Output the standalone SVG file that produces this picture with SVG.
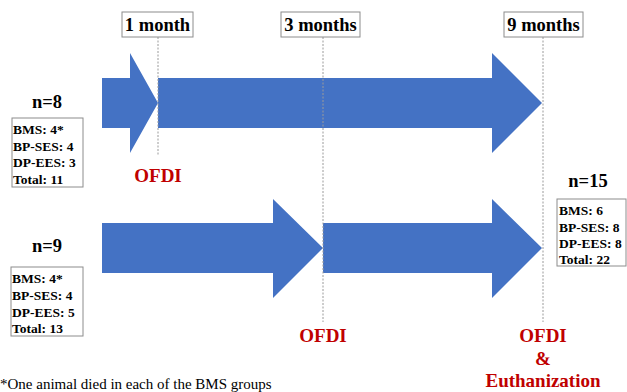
<svg xmlns="http://www.w3.org/2000/svg" width="627" height="392" viewBox="0 0 627 392">
<style>
.lbl{font-family:"Liberation Serif","Times New Roman",serif;font-weight:bold;fill:#000}
.tm{font-size:18.5px;text-anchor:middle}
.n{font-size:18.5px;text-anchor:middle}
.cnt{font-size:13.5px}
.red{font-family:"Liberation Serif","Times New Roman",serif;font-weight:bold;font-size:19px;fill:#C00000;text-anchor:middle}
.box{fill:#fff;stroke:#8c8c8c;stroke-width:1}
.arrow{fill:#4472C4}
.dash{stroke:#9a9a9a;stroke-width:1;stroke-dasharray:2,1.5;fill:none}
.note{font-family:"Liberation Serif","Times New Roman",serif;font-size:15px;fill:#000}
</style>
<rect width="627" height="392" fill="#fff"/>
<g id="arrows">
<polygon class="arrow" points="102,78 130,78 130,53 158,103 130,153 130,128 102,128"/>
<polygon class="arrow" points="158,78 492,78 492,53 542,103 492,153 492,128 158,128"/>
<polygon class="arrow" points="102,223 273,223 273,199 323,248 273,298 273,273 102,273"/>
<polygon class="arrow" points="323,223 492,223 492,199 542,248 492,298 492,273 323,273"/>
</g>
<g id="connectors">
<line class="dash" x1="158" y1="37" x2="158" y2="155"/>
<line class="dash" x1="323" y1="37" x2="323" y2="322"/>
<line class="dash" x1="543" y1="37" x2="543" y2="322"/>
</g>
<g id="t1">
<rect class="box" x="122" y="12" width="71" height="25"/>
<text class="lbl tm" x="157.5" y="31">1 month</text>
</g>
<g id="t3">
<rect class="box" x="281" y="12" width="79" height="25"/>
<text class="lbl tm" x="320.5" y="31">3 months</text>
</g>
<g id="t9">
<rect class="box" x="504" y="12" width="79" height="25"/>
<text class="lbl tm" x="543.5" y="31">9 months</text>
</g>
<g id="g1">
<text class="lbl n" x="47" y="108">n=8</text>
<rect class="box" x="12" y="118" width="71" height="69"/>
<text class="lbl cnt" x="13" y="134">BMS: 4*</text>
<text class="lbl cnt" x="13" y="151">BP-SES: 4</text>
<text class="lbl cnt" x="13" y="167">DP-EES: 3</text>
<text class="lbl cnt" x="13" y="184">Total: 11</text>
</g>
<g id="g2">
<text class="lbl n" x="47" y="252">n=9</text>
<rect class="box" x="11" y="267" width="72" height="69"/>
<text class="lbl cnt" x="12" y="283">BMS: 4*</text>
<text class="lbl cnt" x="12" y="300">BP-SES: 4</text>
<text class="lbl cnt" x="12" y="317">DP-EES: 5</text>
<text class="lbl cnt" x="12" y="333">Total: 13</text>
</g>
<g id="g3">
<text class="lbl n" x="588" y="187">n=15</text>
<rect class="box" x="557" y="199" width="69" height="67"/>
<text class="lbl cnt" x="559" y="215">BMS: 6</text>
<text class="lbl cnt" x="559" y="232">BP-SES: 8</text>
<text class="lbl cnt" x="559" y="248">DP-EES: 8</text>
<text class="lbl cnt" x="559" y="264">Total: 22</text>
</g>
<g id="ofdi1"><text class="red" x="158" y="182">OFDI</text></g>
<g id="ofdi2"><text class="red" x="323" y="342">OFDI</text></g>
<g id="ofdi3">
<text class="red" x="543" y="342">OFDI</text>
<text class="red" x="543" y="365">&amp;</text>
<text class="red" x="543" y="387">Euthanization</text>
</g>
<g id="footnote"><text class="note" x="0" y="389">*One animal died in each of the BMS groups</text></g>
</svg>
